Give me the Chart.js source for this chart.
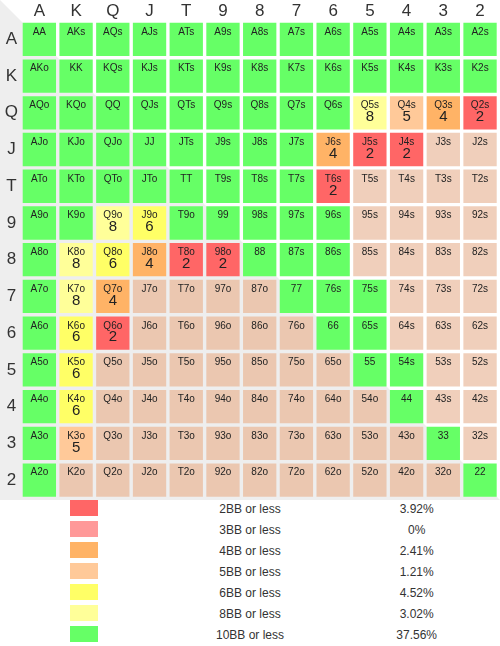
<!DOCTYPE html>
<html><head><meta charset="utf-8">
<script src="https://cdn.jsdelivr.net/npm/chart.js@4.4.1/dist/chart.umd.min.js"></script>
<style>
html,body{margin:0;padding:0;background:#fff;}
#wrap{width:500px;height:500px;position:relative;}
#legend{width:500px;border-collapse:collapse;font-family:"Liberation Sans",Arial,sans-serif;font-size:12px;color:#333;table-layout:fixed;}
#legend td{height:21px;padding:0;text-align:center;vertical-align:top;line-height:19px;}
#legend .sw{display:block;width:28px;height:16px;margin:0 0 0 70px;}
</style></head><body>
<div id="wrap"><canvas id="c" width="500" height="500"></canvas></div>
<table id="legend"></table>
<script>
// ---- data ----
const ranks = ['A','K','Q','J','T','9','8','7','6','5','4','3','2'];
// push threshold in BB for each cell (row = first rank, col = second rank); 0 = not pushed
const pushBB = [
  [10,10,10,10,10,10,10,10,10,10,10,10,10],
  [10,10,10,10,10,10,10,10,10,10,10,10,10],
  [10,10,10,10,10,10,10,10,10, 8, 5, 4, 2],
  [10,10,10,10,10,10,10,10, 4, 2, 2, 0, 0],
  [10,10,10,10,10,10,10,10, 2, 0, 0, 0, 0],
  [10,10, 8, 6,10,10,10,10,10, 0, 0, 0, 0],
  [10, 8, 6, 4, 2, 2,10,10,10, 0, 0, 0, 0],
  [10, 8, 4, 0, 0, 0, 0,10,10,10, 0, 0, 0],
  [10, 6, 2, 0, 0, 0, 0, 0,10,10, 0, 0, 0],
  [10, 6, 0, 0, 0, 0, 0, 0, 0,10,10, 0, 0],
  [10, 6, 0, 0, 0, 0, 0, 0, 0, 0,10, 0, 0],
  [10, 5, 0, 0, 0, 0, 0, 0, 0, 0, 0,10, 0],
  [10, 0, 0, 0, 0, 0, 0, 0, 0, 0, 0, 0,10]
];
const legendBB = [2,3,4,5,6,8,10];
const legendLabels = ['2BB or less','3BB or less','4BB or less','5BB or less','6BB or less','8BB or less','10BB or less'];
const legendPercents = ['3.92%','0%','2.41%','1.21%','4.52%','3.02%','37.56%'];

// ---- styles ----
const bbColors = {2:'#ff6666',3:'#ff9999',4:'#ffb366',5:'#ffc999',6:'#ffff66',8:'#ffff99',10:'#66ff66'};
const noneSuited = '#f0cfbb';
const noneOffsuit = '#ebc7b0';
const FONT = '"Liberation Sans", Arial, sans-serif';

function handLabel(i,j){
  if(i===j) return ranks[i]+ranks[j];
  if(j>i) return ranks[i]+ranks[j]+'s';
  return ranks[j]+ranks[i]+'o';
}
function cellColor(i,j){
  const v = pushBB[i][j];
  if(v) return bbColors[v];
  return j<i ? noneOffsuit : noneSuited;
}

const datasets = ranks.map((r,i)=>({
  label: r,
  data: ranks.map(()=>1),
  backgroundColor: ranks.map((c,j)=>cellColor(i,j)),
  borderColor: 'rgba(0,0,0,0)',
  borderWidth: 1.7,
  borderSkipped: false,
  inflateAmount: 0,
  categoryPercentage: 1,
  barPercentage: 1,
  stack: 'grid',
  yAxisID: 'y'
}));

const bgPlugin = {
  id:'diagBg',
  beforeDraw(chart){
    const ctx = chart.ctx, w = chart.width, h = chart.height;
    ctx.save();
    ctx.fillStyle = '#ffffff';
    ctx.fillRect(0,0,w,h);
    ctx.fillStyle = '#eeeeee';
    ctx.beginPath();
    ctx.moveTo(0,0); ctx.lineTo(0,h); ctx.lineTo(w,h); ctx.closePath();
    ctx.fill();
    ctx.restore();
  }
};

const textPlugin = {
  id:'cellText',
  afterDatasetsDraw(chart){
    const ctx = chart.ctx;
    ctx.save();
    ctx.textAlign = 'center';
    ctx.textBaseline = 'middle';
    ctx.fillStyle = '#222';
    chart.data.datasets.forEach((ds,i)=>{
      const meta = chart.getDatasetMeta(i);
      meta.data.forEach((bar,j)=>{
        const p = bar.getProps(['x','y','base'], true);
        const top = Math.min(p.y, p.base);
        ctx.font = '10px ' + FONT;
        ctx.fillText(handLabel(i,j), p.x, top + 11);
        const v = pushBB[i][j];
        if(v && v < 10){
          ctx.font = '15px ' + FONT;
          ctx.fillText(String(v), p.x, top + 22.5);
        }
      });
    });
    ctx.restore();
  }
};

new Chart(document.getElementById('c'), {
  type:'bar',
  data:{ labels: ranks, datasets },
  options:{
    responsive:false,
    animation:false,
    layout:{ padding:{ left:0, top:0, right:1.6, bottom:1.6 } },
    plugins:{ legend:{display:false}, tooltip:{enabled:false} },
    scales:{
      x:{
        type:'category', position:'top', stacked:true,
        grid:{display:false, drawTicks:false}, border:{display:false},
        ticks:{ color:'#333', font:{family:FONT, size:17, lineHeight:1.1}, padding:0, maxRotation:0, autoSkip:false },
        afterFit(s){ s.height = 21; s.paddingLeft = 0; s.paddingRight = 0; }
      },
      y:{
        type:'linear', min:0, max:13, reverse:true, stacked:true, display:false
      },
      rows:{
        type:'category', labels: ranks, position:'left', offset:true,
        grid:{display:false, drawTicks:false}, border:{display:false},
        ticks:{ color:'#333', font:{family:FONT, size:17}, padding:3, crossAlign:'center', autoSkip:false },
        afterFit(s){ s.width = 21; s.paddingTop = 0; s.paddingBottom = 0; }
      }
    }
  },
  plugins:[bgPlugin, textPlugin]
});

// legend table
const tbl = document.getElementById('legend');
legendBB.forEach((bb,k)=>{
  const tr = document.createElement('tr');
  const td1 = document.createElement('td');
  const sw = document.createElement('span');
  sw.className = 'sw';
  sw.style.background = bbColors[bb];
  td1.appendChild(sw);
  const td2 = document.createElement('td'); td2.textContent = legendLabels[k];
  const td3 = document.createElement('td'); td3.textContent = legendPercents[k];
  tr.appendChild(td1); tr.appendChild(td2); tr.appendChild(td3);
  tbl.appendChild(tr);
});
</script>
</body></html>
